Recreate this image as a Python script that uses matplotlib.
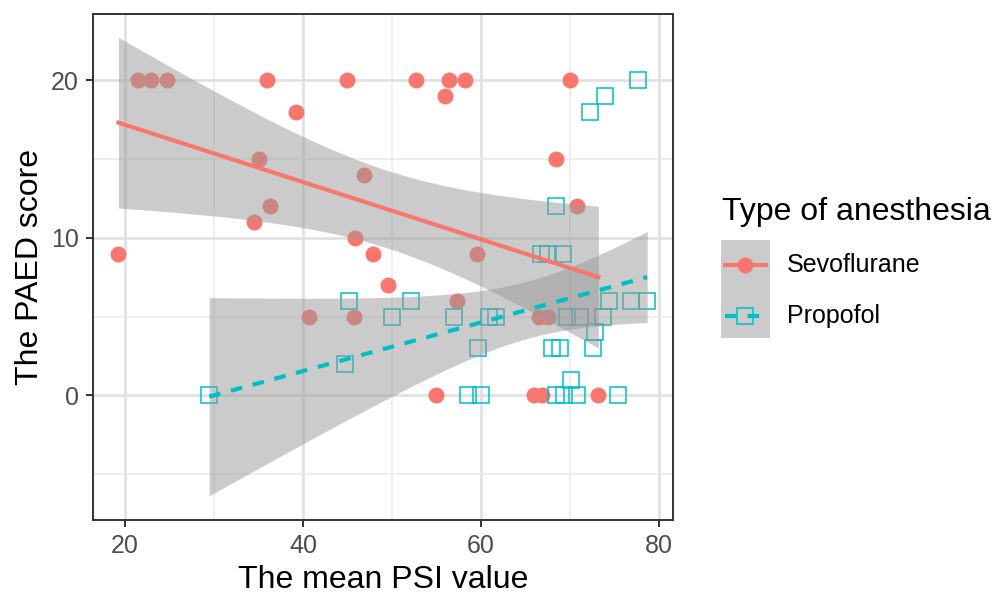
import numpy as np
import matplotlib
matplotlib.use("Agg")
import matplotlib.pyplot as plt
from matplotlib.ticker import MultipleLocator

plt.rcParams['font.family'] = ['Liberation Sans', 'DejaVu Sans']

# Sevoflurane group: mean PSI value vs PAED score
sevo_psi = [19.25, 21.5, 22.9, 24.75, 34.5, 35.0, 36.0, 36.3, 39.2, 40.7, 44.9,
            45.7, 45.8, 46.9, 47.9, 49.6, 52.7, 54.9, 56.0, 56.4, 57.3, 58.2,
            59.6, 66.0, 66.5, 66.9, 67.6, 68.5, 70.05, 70.8, 73.2]
sevo_paed = [9, 20, 20, 20, 11, 15, 20, 12, 18, 5, 20,
             5, 10, 14, 9, 7, 20, 0, 19, 20, 6, 20,
             9, 0, 5, 0, 5, 15, 20, 12, 0]

# Propofol group
prop_psi = [77.7, 74.0, 72.3, 68.4, 66.8, 67.6, 69.2, 45.2, 52.1, 74.4, 76.9,
            78.7, 50.0, 57.0, 60.9, 61.7, 69.7, 71.1, 73.7, 72.8, 59.7, 68.0,
            68.9, 72.6, 44.75, 70.1, 29.45, 58.5, 60.0, 68.5, 69.3, 70.8, 75.4]
prop_paed = [20, 19, 18, 12, 9, 9, 9, 6, 6, 6, 6,
             6, 5, 5, 5, 5, 5, 5, 5, 4, 3, 3,
             3, 3, 2, 1, 0, 0, 0, 0, 0, 0, 0]

groups = ['Sevoflurane', 'Propofol']
colors = {'Sevoflurane': '#F8766D', 'Propofol': '#00BFC4'}
dash = (0, (2.8, 2.6))


def t975(df):
    # Cornish-Fisher approximation of the 97.5% t quantile
    z = 1.959964
    return z + (z**3 + z) / (4 * df) + (5 * z**5 + 16 * z**3 + 3 * z) / (96 * df**2)


def lm_band(x, y, n=80):
    x = np.asarray(x, float)
    y = np.asarray(y, float)
    b, a = np.polyfit(x, y, 1)
    xs = np.linspace(x.min(), x.max(), n)
    fit = a + b * xs
    resid = y - (a + b * x)
    s = np.sqrt(np.sum(resid**2) / (len(x) - 2))
    se = s * np.sqrt(1 / len(x) + (xs - x.mean())**2 / np.sum((x - x.mean())**2))
    t = t975(len(x) - 2)
    return xs, fit, fit - t * se, fit + t * se


fig = plt.figure(figsize=(9.91, 5.93), dpi=100)
ax = fig.add_axes([92.5 / 991, 1 - 520 / 593, 580.5 / 991, 506 / 593])

ax.plot(sevo_psi, sevo_paed, 'o', color=colors['Sevoflurane'], markersize=11.5,
        markeredgewidth=0, zorder=2)
ax.plot(prop_psi, prop_paed, 's', color=colors['Propofol'], markersize=11.2,
        markerfacecolor='none', markeredgewidth=1.1, zorder=2)

for xs_, ys_, g, ls in [(sevo_psi, sevo_paed, 'Sevoflurane', '-'),
                        (prop_psi, prop_paed, 'Propofol', dash)]:
    xs, fit, lo, hi = lm_band(xs_, ys_)
    ax.fill_between(xs, lo, hi, color='#999999', alpha=0.5, linewidth=0, zorder=3)
    ax.plot(xs, fit, color=colors[g], linewidth=3.0, linestyle=ls, zorder=4)

ax.set_xlim(16.33, 81.6)
ax.set_ylim(-7.9, 24.2)
ax.xaxis.set_major_locator(MultipleLocator(20))
ax.xaxis.set_minor_locator(MultipleLocator(10))
ax.yaxis.set_major_locator(MultipleLocator(10))
ax.yaxis.set_minor_locator(MultipleLocator(5))
ax.grid(which='major', color='#E0E0E0', linewidth=1.9, zorder=0)
ax.grid(which='minor', color='#EAEAEA', linewidth=1.1, zorder=0)
ax.set_axisbelow(True)
for sp in ax.spines.values():
    sp.set_color('#333333')
    sp.set_linewidth(1.4)
ax.tick_params(which='major', length=5, width=1.4, color='#333333',
               labelsize=18, labelcolor='#4D4D4D', pad=5)
ax.tick_params(which='minor', length=0)

ax.set_xlabel('The mean PSI value', fontsize=23, labelpad=5)
ax.set_ylabel('The PAED score', fontsize=23, labelpad=4)

# legend
fig.text(722 / 991, 1 - 212 / 593, 'Type of anesthesia', fontsize=23,
         ha='left', va='center')
lax = fig.add_axes([720.7 / 991, 1 - 338 / 593, 49.3 / 991, 98 / 593])
lax.set_xlim(0, 1)
lax.set_ylim(0, 1)
lax.axis('off')
lax.fill_between([0, 1], 0, 1, color='#999999', alpha=0.5, linewidth=0)
for g, yk, mk, ls in [('Sevoflurane', 0.745, 'o', '-'), ('Propofol', 0.225, 's', dash)]:
    lax.plot([0.08, 0.92], [yk, yk], color=colors[g], linewidth=3.0, linestyle=ls)
    if mk == 'o':
        lax.plot([0.5], [yk], 'o', color=colors[g], markersize=11.5, markeredgewidth=0)
    else:
        lax.plot([0.5], [yk], 's', color=colors[g], markersize=11.2,
                 markerfacecolor='none', markeredgewidth=1.1)
    fig.text(786.7 / 991, 1 - (338 - 98 * yk) / 593, g, fontsize=18,
             ha='left', va='center')

fig.savefig('out.png', dpi=100)
